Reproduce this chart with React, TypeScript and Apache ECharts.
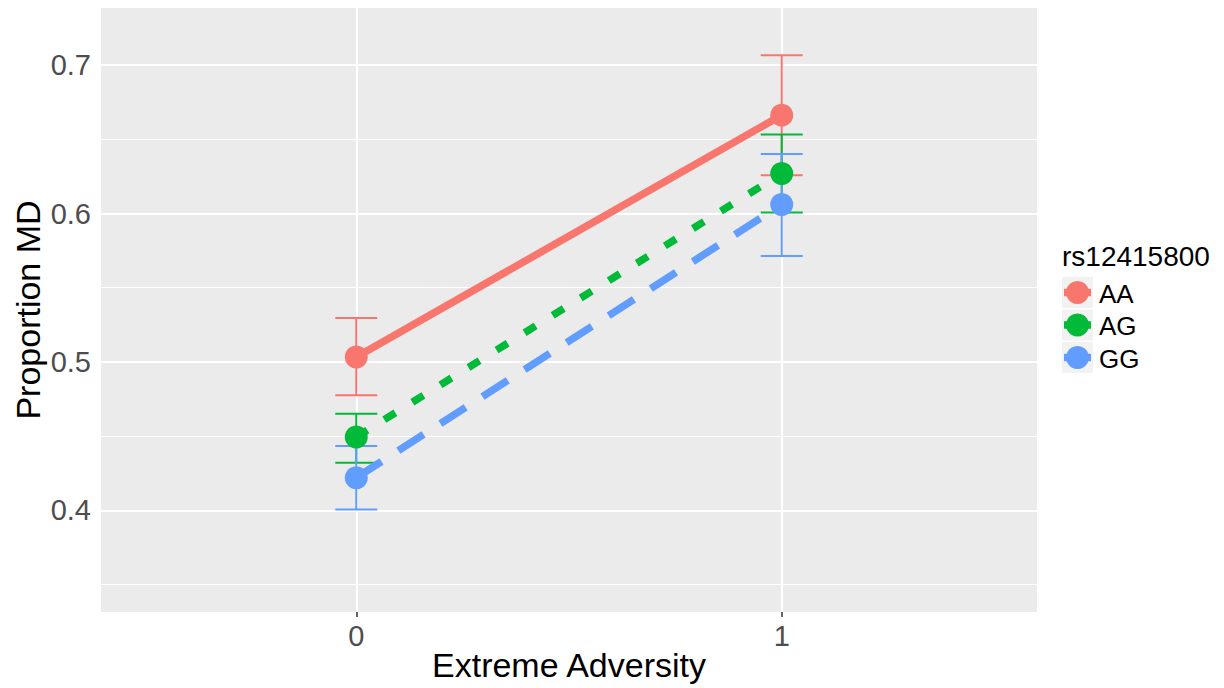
import React, { useEffect, useRef } from "react";
import * as echarts from "echarts";

const xValues = [0, 1];
const groups = ["AA", "AG", "GG"];
const colors = ["#F8766D", "#00BA38", "#619CFF"];
const meanAA = [0.5033, 0.6663];
const meanAG = [0.4494, 0.627];
const meanGG = [0.422, 0.6061];
const lowAA = [0.4775, 0.6258];
const highAA = [0.5296, 0.7067];
const lowAG = [0.4321, 0.6007];
const highAG = [0.4651, 0.6533];
const lowGG = [0.4006, 0.5714];
const highGG = [0.4433, 0.6402];
const yTicks = [0.4, 0.5, 0.6, 0.7];
const yMinor = [0.35, 0.45, 0.55, 0.65];
const xTickLabels = ["0", "1"];
const legendTitle = "rs12415800";

const FONT = "'Liberation Sans', Arial, Helvetica, sans-serif";

export default function App() {
  const ref = useRef<HTMLDivElement>(null);
  useEffect(() => {
    if (!ref.current) return;
    const chart = echarts.init(ref.current, undefined, { renderer: "svg" });
    const means = [meanAA, meanAG, meanGG];
    const lows = [lowAA, lowAG, lowGG];
    const highs = [highAA, highAG, highGG];
    const dashes: any[] = ["solid", [13, 20], [30, 20]];

    const series: any[] = [];
    // grid lines
    series.push({
      type: "scatter",
      name: "grid",
      data: [],
      silent: true,
      z: 1,
      markLine: {
        silent: true,
        z: 1,
        animation: false,
        symbol: ["none", "none"],
        label: { show: false },
        emphasis: { disabled: true },
        data: [
          ...yMinor.map((v) => ({ yAxis: v, lineStyle: { color: "#FFFFFF", width: 1.1, type: "solid" } })),
          ...yTicks.map((v) => ({ yAxis: v, lineStyle: { color: "#FFFFFF", width: 2.2, type: "solid" } })),
          ...xValues.map((v) => ({ xAxis: v, lineStyle: { color: "#FFFFFF", width: 2.2, type: "solid" } })),
        ],
      },
    });
    groups.forEach((g, i) => {
      series.push({
        type: "custom",
        name: g + " error",
        z: 2,
        silent: true,
        data: xValues.map((x, k) => [x, lows[i][k], highs[i][k]]),
        renderItem: (params: any, api: any) => {
          const x = api.value(0);
          const lo = api.coord([x, api.value(1)]);
          const hi = api.coord([x, api.value(2)]);
          const hw = 21;
          const style = { stroke: colors[i], lineWidth: 2 };
          return {
            type: "group",
            children: [
              { type: "line", shape: { x1: lo[0], y1: lo[1], x2: hi[0], y2: hi[1] }, style },
              { type: "line", shape: { x1: lo[0] - hw, y1: lo[1], x2: lo[0] + hw, y2: lo[1] }, style },
              { type: "line", shape: { x1: hi[0] - hw, y1: hi[1], x2: hi[0] + hw, y2: hi[1] }, style },
            ],
          };
        },
      });
    });
    groups.forEach((g, i) => {
      series.push({
        type: "line",
        name: g,
        z: 3,
        silent: true,
        symbol: "none",
        data: xValues.map((x, k) => [x, means[i][k]]),
        lineStyle: { color: colors[i], width: 7.5, type: dashes[i], cap: "butt" },
      });
    });
    groups.forEach((g, i) => {
      series.push({
        type: "scatter",
        name: g + " points",
        z: 4,
        silent: true,
        symbol: "circle",
        symbolSize: 23,
        data: xValues.map((x, k) => [x, means[i][k]]),
        itemStyle: { color: colors[i], opacity: 1 },
      });
    });

    const keyTop = 277;
    const keyStep = 32.5;
    const legendGraphics: any[] = [
      {
        type: "text",
        left: 1062,
        top: 242,
        style: { text: legendTitle, font: `28px ${FONT}`, fill: "#000000" },
      },
    ];
    groups.forEach((g, i) => {
      const cy = keyTop + keyStep * i + 15.5;
      legendGraphics.push(
        { type: "rect", shape: { x: 1062, y: keyTop + keyStep * i, width: 31, height: 31 }, style: { fill: "#F2F2F2" } },
        { type: "line", shape: { x1: 1064, y1: cy, x2: 1091, y2: cy }, style: { stroke: colors[i], lineWidth: 7.5 } },
        { type: "circle", shape: { cx: 1077.5, cy, r: 11.5 }, style: { fill: colors[i] } },
        {
          type: "text",
          x: 1099,
          y: cy + 1,
          style: { text: g, font: `26px ${FONT}`, fill: "#000000", textVerticalAlign: "middle", verticalAlign: "middle" },
        }
      );
    });

    chart.setOption({
      animation: false,
      backgroundColor: "#FFFFFF",
      grid: {
        left: 101,
        right: 187,
        top: 8,
        bottom: 76,
        show: true,
        backgroundColor: "#EBEBEB",
        borderWidth: 0,
        containLabel: false,
        outerBoundsMode: "none",
      },
      xAxis: {
        type: "value",
        min: -0.6,
        max: 1.6,
        name: "Extreme Adversity",
        nameLocation: "middle",
        nameGap: 36,
        nameMoveOverlap: false,
        nameTextStyle: { fontFamily: FONT, fontSize: 34, color: "#000000" },
        axisLine: { show: false },
        splitLine: { show: false },
        axisTick: { show: true, customValues: xValues, length: 5, lineStyle: { color: "#333333", width: 1.5 } },
        axisLabel: {
          customValues: xValues,
          formatter: (v: number) => xTickLabels[Math.round(v)] ?? "",
          fontFamily: FONT,
          fontSize: 29,
          color: "#4D4D4D",
          margin: 9,
        },
      },
      yAxis: {
        type: "value",
        min: 0.3315,
        max: 0.7385,
        name: "Proportion MD",
        nameLocation: "middle",
        nameGap: 56,
        nameMoveOverlap: false,
        nameTextStyle: { fontFamily: FONT, fontSize: 34, color: "#000000" },
        axisLine: { show: false },
        splitLine: { show: false },
        axisTick: { show: true, customValues: yTicks, length: 5, lineStyle: { color: "#333333", width: 1.5 } },
        axisLabel: {
          customValues: yTicks,
          formatter: (v: number) => v.toFixed(1),
          fontFamily: FONT,
          fontSize: 29,
          color: "#4D4D4D",
          margin: 10,
        },
      },
      graphic: legendGraphics,
      series,
    });
    return () => chart.dispose();
  }, []);
  return <div ref={ref} style={{ width: 1224, height: 688, position: "absolute", left: 0, top: 0 }} />;
}
